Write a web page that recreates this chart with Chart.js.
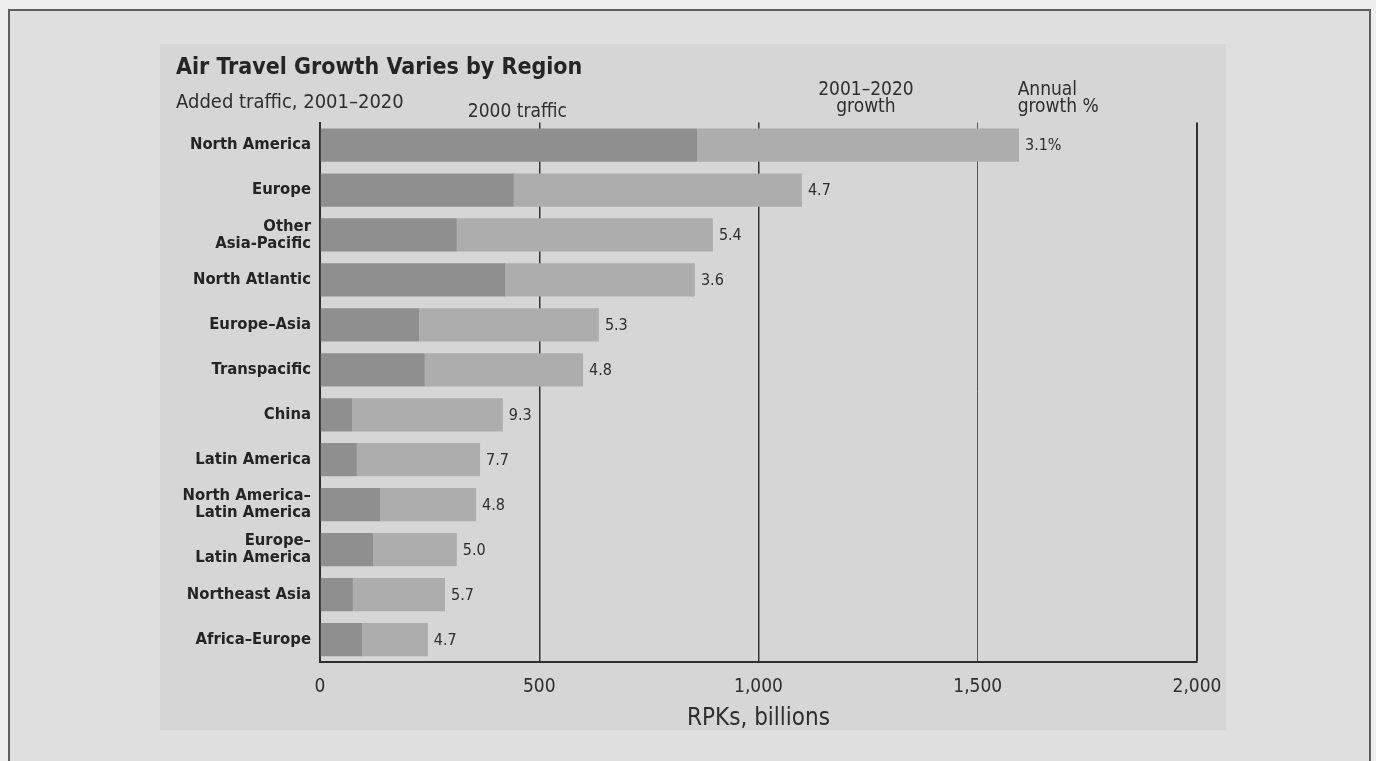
<!DOCTYPE html>
<html>
<head>
<meta charset="utf-8">
<script src="https://cdn.jsdelivr.net/npm/chart.js@4.4.1/dist/chart.umd.min.js"></script>
<style>
  html, body { margin: 0; padding: 0; width: 1376px; height: 761px; overflow: hidden; background: #eeeeee; }
  #frame { position: absolute; left: 8px; top: 9px; width: 1363px; height: 760px; border: 2px solid #5e5e5e; background: #dfdfdf; box-sizing: border-box; }
  #panel { position: absolute; left: 160px; top: 44px; width: 1066px; height: 686px; background: #d6d6d6; }
  #wrap { position: absolute; left: 0; top: 0; width: 1376px; height: 761px; }
</style>
</head>
<body>
<div id="frame"></div>
<div id="panel"></div>
<div id="wrap"><canvas id="c" width="1376" height="761"></canvas></div>
<script>
const categories = [
  'North America', 'Europe', ['Other', 'Asia-Pacific'], 'North Atlantic', 'Europe–Asia',
  'Transpacific', 'China', 'Latin America', ['North America–', 'Latin America'],
  ['Europe–', 'Latin America'], 'Northeast Asia', 'Africa–Europe'
];
const traffic2000 = [860, 442, 312, 422, 226, 239, 73, 84, 137, 121, 75, 96];
const growth2001_2020 = [734, 657, 584, 433, 410, 361, 344, 281, 219, 191, 210, 150];
const annualGrowth = ['3.1%', '4.7', '5.4', '3.6', '5.3', '4.8', '9.3', '7.7', '4.8', '5.0', '5.7', '4.7'];
const xTicks = [0, 500, 1000, 1500, 2000];

const NARROW = '"Liberation Sans Narrow", "Arial Narrow", "DejaVu Sans Condensed", "Liberation Sans", sans-serif';
const INK = '#2e2e2e';

const annotate = {
  id: 'annotate',
  afterDatasetsDraw(chart) {
    const ctx = chart.ctx;
    const xs = chart.scales.x;
    const meta = chart.getDatasetMeta(1);
    ctx.save();
    ctx.fillStyle = INK;
    ctx.font = '16px ' + NARROW;
    ctx.textAlign = 'left';
    ctx.textBaseline = 'middle';
    meta.data.forEach((bar, i) => {
      ctx.fillText(annualGrowth[i], bar.x + 6, bar.y + 1);
    });
    ctx.font = '19px ' + NARROW;
    ctx.textAlign = 'center';
    ctx.fillText('2000 traffic', xs.getPixelForValue(450), 112);
    ctx.fillText('2001–2020', xs.getPixelForValue(1245), 90);
    ctx.fillText('growth', xs.getPixelForValue(1245), 107);
    ctx.textAlign = 'left';
    ctx.fillText('Annual', xs.getPixelForValue(1591), 90);
    ctx.fillText('growth %', xs.getPixelForValue(1591), 107);
    ctx.restore();
  }
};

new Chart(document.getElementById('c'), {
  type: 'bar',
  data: {
    labels: categories,
    datasets: [
      { label: '2000 traffic', data: traffic2000, backgroundColor: '#8f8f8f', borderWidth: 0 },
      { label: '2001–2020 growth', data: growth2001_2020, backgroundColor: '#adadad', borderWidth: 0 }
    ]
  },
  plugins: [annotate],
  options: {
    indexAxis: 'y',
    responsive: false,
    animation: false,
    devicePixelRatio: 1,
    layout: { padding: { left: 176, right: 179, top: 40, bottom: 28 } },
    datasets: { bar: { barPercentage: 0.74, categoryPercentage: 1.0 } },
    plugins: {
      legend: { display: false },
      tooltip: { enabled: false },
      title: {
        display: true, text: 'Air Travel Growth Varies by Region', align: 'start', color: '#252525',
        font: { family: NARROW, size: 23, weight: 'bold' }, padding: { top: 14, bottom: 6 }
      },
      subtitle: {
        display: true, text: 'Added traffic, 2001–2020', align: 'start', color: INK,
        font: { family: NARROW, size: 20 }, padding: { top: 3, bottom: 8 }
      }
    },
    scales: {
      x: {
        stacked: true, min: 0, max: 2000,
        afterBuildTicks(s) { s.ticks = xTicks.map(v => ({ value: v })); },
        afterFit(s) { s.height = 71; },
        grid: {
          display: true, drawTicks: false,
          color: ctx => (ctx.tick && ctx.tick.value === 1500) ? '#555555' : '#333333',
          lineWidth: ctx => (ctx.tick && ctx.tick.value === 1500) ? 1 : (ctx.tick && ctx.tick.value === 2000 ? 2 : 1.5)
        },
        border: { display: true, color: '#2e2e2e', width: 2 },
        ticks: {
          color: INK, padding: 14, font: { family: NARROW, size: 19 },
          callback: v => v.toLocaleString('en-US')
        },
        title: { display: true, text: 'RPKs, billions', color: INK, font: { family: NARROW, size: 24 }, padding: { top: 0, bottom: 0 } }
      },
      y: {
        stacked: true,
        afterFit(s) { s.width = 144; },
        grid: { display: false },
        border: { display: true, color: '#2e2e2e', width: 2 },
        ticks: { color: '#242424', padding: 1, font: { family: NARROW, size: 16.5, weight: 'bold', lineHeight: 1.03 } }
      }
    }
  }
});
</script>
</body>
</html>
